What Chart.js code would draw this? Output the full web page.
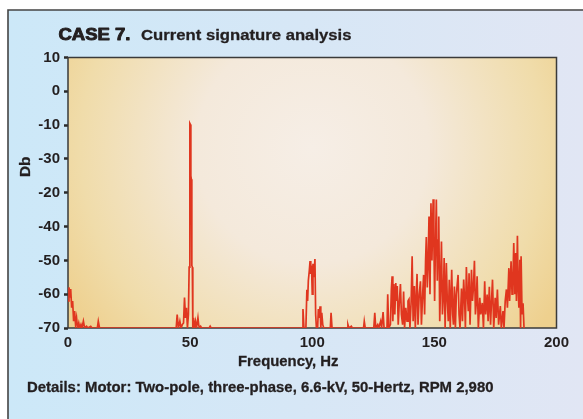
<!DOCTYPE html>
<html>
<head>
<meta charset="utf-8">
<script src="https://cdn.jsdelivr.net/npm/chart.js@4.4.1/dist/chart.umd.min.js"></script>
<style>
  html, body { margin: 0; padding: 0; background: #fff; }
  #wrap { width: 583px; height: 419px; position: relative; }
</style>
</head>
<body>
<div id="wrap"><canvas id="spectrum"></canvas></div>
<script>
// spectrum: frequency (Hz) and level (dB)
const freqHz = [
  0, 0.4, 0.8, 1.1, 1.5, 1.9, 2.3, 2.7, 3.1, 3.5, 3.9, 4.4, 4.8, 5.3, 5.7, 6.3, 6.8, 7.6, 8.1, 9.3, 9.8,
  12.0, 12.4, 12.9,
  44.3, 44.7, 45.2, 45.8, 46.3, 46.8, 47.3, 47.7, 48.1, 48.5, 48.9, 49.3, 49.6, 49.9, 50.1, 50.3, 50.5,
  50.7, 50.9, 51.1, 51.4, 51.7, 52.2, 52.6, 53.2, 53.5, 53.8, 54.3, 54.7, 57.8, 58.2, 58.6,
  95.9, 96.2, 96.6, 97.4, 97.8, 98.1, 98.4, 98.8, 99.1, 99.4, 99.7, 100.0, 100.3, 100.7, 101.1, 101.4,
  101.7, 102.2, 102.5, 102.8, 103.2, 103.5, 103.9, 104.3, 104.7, 107.4, 107.7, 108.1,
  114.3, 114.6, 115.0, 116.0, 116.4, 121.0, 121.3, 121.7, 125.2, 125.6, 126.0, 126.8, 127.2,
  128.0, 128.4, 129.0, 129.4, 130.6, 130.9, 131.3, 132.0, 132.4, 132.7, 133.0, 133.4, 133.8, 134.2,
  134.5, 134.8, 135.2, 135.6, 136.1, 136.5, 137.0, 137.4, 137.8, 138.3, 138.8, 139.2, 139.6, 140.0,
  140.5, 140.9, 141.3, 141.8, 142.2, 142.5, 142.9, 143.3, 143.8, 144.3, 144.7, 145.2, 145.6, 146.0,
  146.4, 146.7, 147.1, 147.4, 147.8, 148.2, 148.6, 149.0, 149.5, 149.8, 150.1, 150.4, 150.8, 151.2,
  151.5, 151.8, 152.2, 152.5, 152.9, 153.3, 153.7, 154.0, 154.4, 154.9, 155.3, 155.7, 156.1, 156.5,
  157.1, 157.5, 157.8, 158.2, 158.6, 159.0, 159.7, 160.1, 160.5, 161.1, 161.5, 162.0, 162.4, 162.7,
  163.1, 163.5, 163.9, 164.2, 164.6, 165.2, 165.6, 166.0, 166.4, 166.8, 167.1, 167.5, 168.0, 168.6,
  169.0, 169.6, 170.1, 170.6, 171.0, 171.6, 172.0, 172.5, 173.0, 173.4, 173.8, 174.3, 174.9, 175.3,
  175.8, 176.3, 177.0, 177.4, 178.1, 178.5, 179.0, 179.5, 179.9, 180.5, 180.8, 181.4, 181.8, 182.1,
  182.5, 182.9, 183.3, 183.6, 184.0, 184.3, 184.6, 185.0, 185.3, 185.5, 185.9, 186.3, 186.7, 187.0
]
const levelDb = [
  -62, -58, -61, -58.5, -64, -62, -68, -65, -69, -67, -70, -68.5, -70, -69, -70, -68, -70, -69.5, -70, -69.5, -70,
  -70, -68, -70,
  -70, -66, -70, -68, -70, -69, -68.5, -61, -67, -64, -70, -66, -52, -9.5, -9.8, -25, -26,
  -51.5, -52, -70, -67, -70, -68, -70, -67, -69, -70, -69.5, -70, -70, -69.5, -70,
  -70, -64.4, -70, -70, -58.7, -62, -56, -53, -50.2, -54, -51.5, -60, -51, -55, -49.6, -66,
  -70, -70, -64.4, -67, -63.6, -70, -65.5, -69, -70, -70, -65.5, -70,
  -70, -69, -70, -69.5, -70, -70, -68, -70, -70, -65.5, -70, -69, -70,
  -68, -70, -65.3, -70, -70, -60, -70, -69, -58.5, -54.7, -68, -57, -66, -56.7,
  -62, -57.6, -69, -63, -57, -66, -69, -59.2, -70, -64, -68, -62, -61.5, -70,
  -62, -48.8, -68, -57.6, -70, -62, -54, -69, -60, -56.2, -69, -60, -54.3, -66,
  -50, -43.1, -58, -52, -37, -60, -33.1, -50, -31.9, -45, -62, -47, -32, -56,
  -44, -37, -68, -58, -44.4, -66, -60, -49.3, -70, -50.8, -62, -68, -55.7, -70,
  -52.8, -66, -69, -57.7, -70, -60, -54.3, -66, -70, -58.3, -68, -55.7, -62, -70,
  -52, -60, -65, -53.8, -69, -52.8, -62, -58, -50.1, -66, -63, -54.7, -70, -61.1,
  -66, -62.6, -70, -56.2, -66, -60.1, -68, -57.8, -69, -62, -55.7, -70, -61.1, -67,
  -58.6, -69, -63.5, -70, -65, -70, -62, -58.6, -64, -52.3, -62, -50.3, -60, -58,
  -44.9, -60, -47.8, -62, -42.7, -58, -64, -49.8, -70, -48.8, -66, -62.7, -70, -70
]

// the printed axis labels (the original swaps -20 and -30)
const yTickValues = [10, 0, -10, -20, -30, -40, -50, -60, -70]
const yTickLabels = ['10', '0', '-10', '-30', '-20', '-40', '-50', '-60', '-70']
const xTickValues = [0, 50, 100, 150, 200]

const titleCase = 'CASE 7.'
const titleText = 'Current signature analysis'
const yTitle = 'Db'
const xTitle = 'Frequency, Hz'
const detailsText = 'Details: Motor: Two-pole, three-phase, 6.6-kV, 50-Hertz, RPM 2,980'

const ink = '#231f20'
const fontFamily = '"Liberation Sans", Arial, Helvetica, sans-serif'

// draw text squeezed/stretched to a given width, optionally thickened
function fitText (ctx, text, x, y, font, width, weight = 0) {
  ctx.font = font
  const w = ctx.measureText(text).width
  ctx.save()
  ctx.translate(x, y)
  ctx.scale(width / w, 1)
  ctx.fillText(text, 0, 0)
  if (weight) {
    ctx.lineWidth = weight
    ctx.lineJoin = 'round'
    ctx.strokeText(text, 0, 0)
  }
  ctx.restore()
}

const backdrop = {
  id: 'backdrop',
  beforeDraw (chart) {
    const { ctx, chartArea: a } = chart
    ctx.save()
    ctx.fillStyle = '#ffffff'
    ctx.fillRect(0, 0, chart.width, chart.height)
    const bg = ctx.createLinearGradient(8, 0, chart.width, 0)
    bg.addColorStop(0, '#cce8f8')
    bg.addColorStop(1, '#e1e6f4')
    ctx.fillStyle = bg
    ctx.fillRect(8, 10, chart.width - 8, chart.height - 10)
    ctx.strokeStyle = '#444'
    ctx.lineWidth = 1.6
    ctx.beginPath()
    ctx.moveTo(8, chart.height)
    ctx.lineTo(8, 10)
    ctx.lineTo(chart.width, 10)
    ctx.stroke()

    const cx = (a.left + a.right) / 2
    const plot = ctx.createRadialGradient(cx, a.top + 90, 0, cx, a.top + 90, 290)
    plot.addColorStop(0, '#f6eee6')
    plot.addColorStop(0.4, '#f4e9db')
    plot.addColorStop(0.8, '#f0dcaa')
    plot.addColorStop(1, '#eed08e')
    ctx.fillStyle = plot
    ctx.fillRect(a.left, a.top, a.right - a.left, a.bottom - a.top)
    ctx.restore()
  },
  beforeDatasetsDraw (chart) {
    const { ctx, chartArea: a } = chart
    ctx.save()
    ctx.strokeStyle = '#3a3a3a'
    ctx.lineWidth = 1.5
    ctx.strokeRect(a.left, a.top, a.right - a.left, a.bottom - a.top)
    ctx.restore()
  },
  afterDraw (chart) {
    const { ctx } = chart
    ctx.save()
    ctx.fillStyle = ink
    ctx.strokeStyle = ink
    ctx.textBaseline = 'alphabetic'
    ctx.textAlign = 'left'
    fitText(ctx, titleCase, 58.5, 39.5, `bold 16px ${fontFamily}`, 72, 0.9)
    fitText(ctx, titleText, 141, 39.5, `bold 15.5px ${fontFamily}`, 210.5, 0.3)
    fitText(ctx, xTitle, 238, 365.5, `bold 15.5px ${fontFamily}`, 100.5, 0.3)
    fitText(ctx, detailsText, 27, 392, `bold 15.5px ${fontFamily}`, 466.5, 0.3)
    ctx.save()
    ctx.translate(29.5, 177)
    ctx.rotate(-Math.PI / 2)
    fitText(ctx, yTitle, 0, 0, `bold 15.5px ${fontFamily}`, 20.5, 0.3)
    ctx.restore()
    ctx.restore()
  }
}

const points = freqHz.map((f, i) => ({ x: f, y: levelDb[i] }))

// eslint-disable-next-line no-unused-vars, no-undef
const chart = new Chart(document.querySelector('#spectrum'), {
  type: 'line',
  data: {
    datasets: [{
      data: points,
      borderColor: '#e0361f',
      borderWidth: 1.7,
      pointRadius: 0,
      tension: 0,
      fill: false
    }]
  },
  options: {
    responsive: true,
    maintainAspectRatio: false,
    animation: false,
    layout: { padding: { left: 0, top: 57.5, right: 26.5, bottom: 0 } },
    plugins: {
      legend: { display: false },
      title: { display: false },
      tooltip: { enabled: false }
    },
    scales: {
      x: {
        type: 'linear',
        min: 0,
        max: 200,
        afterFit: (scale) => { scale.height = 91 },
        afterBuildTicks: (scale) => { scale.ticks = xTickValues.map(v => ({ value: v })) },
        grid: { display: true, drawOnChartArea: false, drawTicks: false },
        border: { display: false },
        ticks: {
          color: ink,
          padding: 6,
          maxRotation: 0,
          font: { family: fontFamily, size: 15, weight: 'bold' }
        }
      },
      y: {
        min: -70,
        max: 10,
        afterFit: (scale) => { scale.width = 68 },
        afterBuildTicks: (scale) => { scale.ticks = yTickValues.map(v => ({ value: v })) },
        grid: {
          display: true,
          drawOnChartArea: false,
          drawTicks: true,
          tickLength: 4,
          tickWidth: 2.5,
          tickColor: '#2a2a2a'
        },
        border: { display: false },
        ticks: {
          color: ink,
          padding: 4,
          font: { family: fontFamily, size: 15, weight: 'bold' },
          callback: (v) => yTickLabels[yTickValues.indexOf(v)]
        }
      }
    }
  },
  plugins: [backdrop]
})
</script>
</body>
</html>
